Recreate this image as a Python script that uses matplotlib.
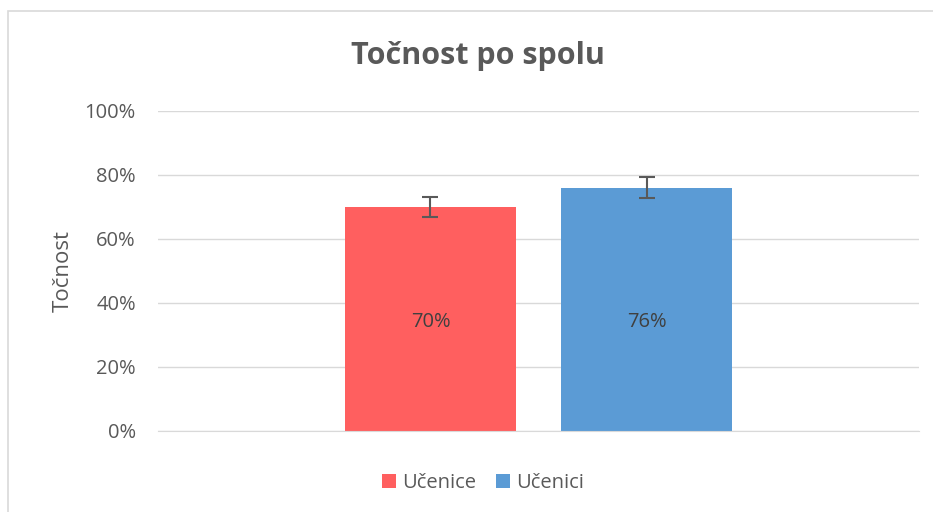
import matplotlib
matplotlib.use('Agg')
import matplotlib.pyplot as plt
from matplotlib.patches import Rectangle
from matplotlib.ticker import PercentFormatter

series = ['Učenice', 'Učenici']
values = [0.70, 0.76]
errors = [0.03, 0.033]
colors = ['#FF5F5F', '#5B9BD5']
labels = ['70%', '76%']

plt.rcParams['font.family'] = ['Open Sans', 'DejaVu Sans']
TEXT = '#595959'
LABEL_Y = 0.34  # Excel puts both data labels on the same line

fig = plt.figure(figsize=(9.33, 5.12), dpi=100)
ax = fig.add_axes([158 / 933, 81 / 512, 761 / 933, 320 / 512])

# outer chart border (runs off the right/bottom edge)
fig.patches.append(Rectangle((8 / 933, -0.1), 1.0, (512 - 11) / 512 + 0.1,
                             transform=fig.transFigure, fill=False,
                             edgecolor='#D9D9D9', linewidth=1.2))

width = 0.2247
offsets = [-0.142, 0.142]
for name, v, e, c, lab, off in zip(series, values, errors, colors, labels, offsets):
    ax.bar(off, v, width=width, color=c, label=name, zorder=2)
    ax.errorbar(off, v, yerr=e, fmt='none', ecolor=TEXT, elinewidth=1.5,
                capsize=6, capthick=1.5, zorder=3)
    ax.text(off, LABEL_Y, lab, ha='center', va='center', fontsize=14.5, color='#404040')

ax.set_xlim(-0.5, 0.5)
ax.set_ylim(0, 1.0)
ax.set_yticks([0, 0.2, 0.4, 0.6, 0.8, 1.0])
ax.yaxis.set_major_formatter(PercentFormatter(1.0, decimals=0))
ax.set_xticks([])
ax.grid(axis='y', color='#D9D9D9', linewidth=1.0, zorder=0)
for s in ['top', 'right', 'left']:
    ax.spines[s].set_visible(False)
ax.spines['bottom'].set_color('#D9D9D9')
ax.tick_params(axis='y', length=0, labelsize=14.5, labelcolor=TEXT, pad=16)
ax.set_ylabel('Točnost', fontsize=16, color=TEXT, labelpad=8)

fig.text(478 / 933, 1 - 56 / 512, 'Točnost po spolu', ha='center', va='center',
         fontsize=22, fontweight='bold', color=TEXT)

fig.legend(loc='center', bbox_to_anchor=(483 / 933, 1 - 483 / 512), ncol=2,
           frameon=False, fontsize=14.5, labelcolor=TEXT, handlelength=0.7,
           handleheight=0.7, handletextpad=0.3, columnspacing=1.0)

fig.savefig('out.png', dpi=100)
